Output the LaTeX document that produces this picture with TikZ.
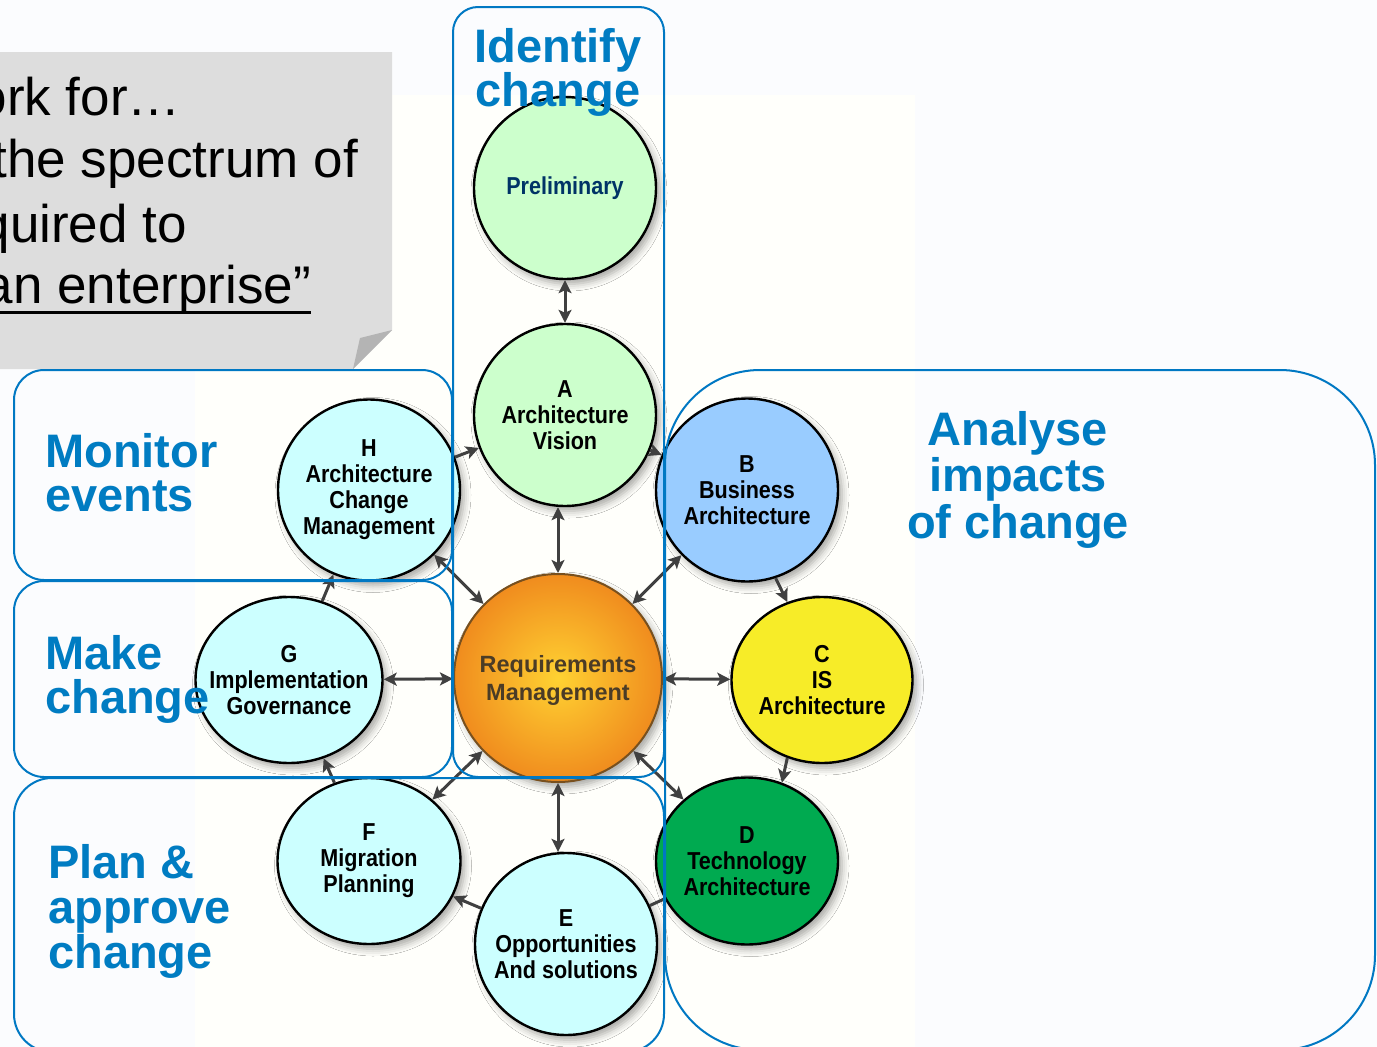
\documentclass[tikz,border=0pt]{standalone}
\usepackage{fontspec}
\setmainfont{Liberation Sans}
\newfontfamily\narrowsans[FakeStretch=0.88]{Liberation Sans}
\usetikzlibrary{arrows.meta,shapes.geometric,shadows.blur}
\definecolor{titleblue}{RGB}{0,124,194}
\definecolor{boxblue}{RGB}{0,120,195}
\definecolor{arrowgray}{RGB}{64,64,64}
\definecolor{palegreen}{RGB}{204,255,204}
\definecolor{paleblue}{RGB}{153,204,255}
\definecolor{isyellow}{RGB}{247,236,40}
\definecolor{techgreen}{RGB}{0,170,80}
\definecolor{palecyan}{RGB}{204,255,255}
\definecolor{navytext}{RGB}{0,51,102}
\definecolor{reqinner}{RGB}{255,210,50}
\definecolor{reqouter}{RGB}{240,140,30}
\definecolor{reqborder}{RGB}{120,80,30}
\definecolor{reqtext}{RGB}{75,60,38}
\definecolor{calloutgray}{RGB}{221,221,221}
\definecolor{foldgray}{RGB}{180,180,180}
\definecolor{bgblue}{RGB}{251,252,254}
\definecolor{bgwarm}{RGB}{255,255,251}
\begin{document}
\begin{tikzpicture}[x=1pt,y=-1pt,
  circ/.style={ellipse, draw=black, line width=2.4pt, inner sep=0pt,
    minimum width=182pt, minimum height=182pt,
    blur shadow={shadow xshift=4pt, shadow yshift=-5pt, shadow blur radius=7pt, shadow opacity=35}},
  lbl/.style={font=\narrowsans\bfseries\fontsize{24.5}{26}\selectfont, align=center, inner sep=0pt},
  region/.style={draw=boxblue, line width=2pt},
  title/.style={font=\bfseries\fontsize{47}{44}\selectfont, text=titleblue, inner sep=0pt},
  callouttext/.style={font=\fontsize{53}{63}\selectfont, text=black, inner sep=0pt, anchor=base east},
  flow/.style={draw=arrowgray, line width=3pt, -{Stealth[length=13pt,width=13pt,inset=3pt]}},
  both/.style={draw=arrowgray, line width=3pt, {Stealth[length=13pt,width=13pt,inset=3pt]}-{Stealth[length=13pt,width=13pt,inset=3pt]}},
  plainflow/.style={draw=arrowgray, line width=3pt},
]
\useasboundingbox (0,0) rectangle (1377,1047);
\clip (0,0) rectangle (1377,1047);
% background
\fill[bgblue] (0,0) rectangle (1377,1047);
\fill[bgwarm] (195,95) rectangle (915,1047);

% callout
\fill[calloutgray] (-5,52) -- (392,52) -- (392,330) -- (353,369) -- (-5,369) -- cycle;
\fill[foldgray] (392,330) -- (360,338) -- (353,369) -- cycle;
\node[callouttext] (c1) at (181,115) {ork for…};
\node[callouttext] (c2) at (358,177) {the spectrum of};
\node[callouttext] (c3) at (187,242) {quired to};
\node[callouttext] (c4) at (311,303) {an enterprise”};
\draw[line width=3pt] ([yshift=-9pt]c4.base west) -- ([yshift=-9pt]c4.base east);

% circles
\node[circ, fill=palegreen, label={[lbl, text=navytext]center:Preliminary}] (P) at (565,188) {};
\node[circ, fill=palegreen, label={[lbl]center:{A\\Architecture\\Vision}}] (A) at (565,415) {};
\node[circ, fill=paleblue, minimum height=183pt, label={[lbl]center:{B\\Business\\Architecture}}] (B) at (747,490) {};
\node[circ, fill=isyellow, minimum width=181pt, minimum height=166pt, label={[lbl]center:{C\\IS\\Architecture}}] (C) at (822,680) {};
\node[circ, fill=techgreen, minimum height=167pt, label={[lbl]center:{D\\Technology\\Architecture}}] (D) at (747,861) {};
\node[circ, fill=palecyan, label={[lbl]center:{E\\Opportunities\\And solutions}}] (E) at (566,944) {};
\node[circ, fill=palecyan, minimum width=183pt, minimum height=166pt, label={[lbl]center:{F\\Migration\\Planning}}] (F) at (369,861) {};
\node[circ, fill=palecyan, minimum width=187pt, minimum height=166pt, label={[lbl]center:{G\\Implementation\\Governance}}] (G) at (289,680) {};
\node[circ, fill=palecyan, minimum height=181pt, label={[lbl]center:{H\\Architecture\\Change\\Management}}] (H) at (369,490) {};
\node[circle, draw=reqborder, line width=2pt, inner sep=0pt, minimum size=208pt,
      shading=radial, inner color=reqinner, outer color=reqouter,
      blur shadow={shadow xshift=4pt, shadow yshift=-5pt, shadow blur radius=7pt, shadow opacity=35},
      label={[font=\bfseries\fontsize{23.5}{28}\selectfont, align=center, inner sep=0pt, text=reqtext, yshift=-2pt]center:{Requirements\\Management}}] (R) at (558,678) {};

% connectors
\draw[both] (P) -- (A);
\draw[both] (R |- A.south) -- (R.north);
\draw[both] (R.south) -- (R |- E.north);
\draw[both] (R) -- (B);
\draw[both] (R) -- (C);
\draw[both] (R) -- (D);
\draw[both] (R) -- (F);
\draw[both] (R) -- (G);
\draw[both] (R) -- (H);
\draw[flow] (H) -- (A);
\draw[flow] (A) -- (B);
\draw[flow] (B.-72) -- (C.114);
\draw[flow] (C.-114) -- (D.66);
\draw[plainflow] (D) -- (E);
\draw[flow] (E) -- (F);
\draw[flow] (F) -- (G);
\draw[flow] (G) -- (H);

% regions
\draw[region, rounded corners=25pt] (453,7) rectangle (664,777);
\draw[region, rounded corners=30pt] (14,370) rectangle (452,580);
\draw[region, rounded corners=30pt] (14,581) rectangle (452,777);
\draw[region, rounded corners=38pt] (14,778) rectangle (664,1052);
\draw[region, rounded corners=95pt] (665,370) rectangle (1375,1050);

% titles (base anchor = baseline of the last line)
\node[title, align=center, anchor=base] (tIdent) at (558,106) {Identify\\change};
\node[title, align=left, anchor=base west] (tMon) at (45,511) {Monitor\\events};
\node[title, align=left, anchor=base west] (tMake) at (45,713) {Make\\change};
\node[title, align=left, anchor=base west, font=\bfseries\fontsize{47}{45}\selectfont] (tPlan) at (48,968) {Plan \&\\approve\\change};
\node[title, align=center, anchor=base, font=\bfseries\fontsize{47}{46.5}\selectfont] (tAna) at (1018,538) {Analyse\\impacts\\of change};
\end{tikzpicture}
\end{document}
